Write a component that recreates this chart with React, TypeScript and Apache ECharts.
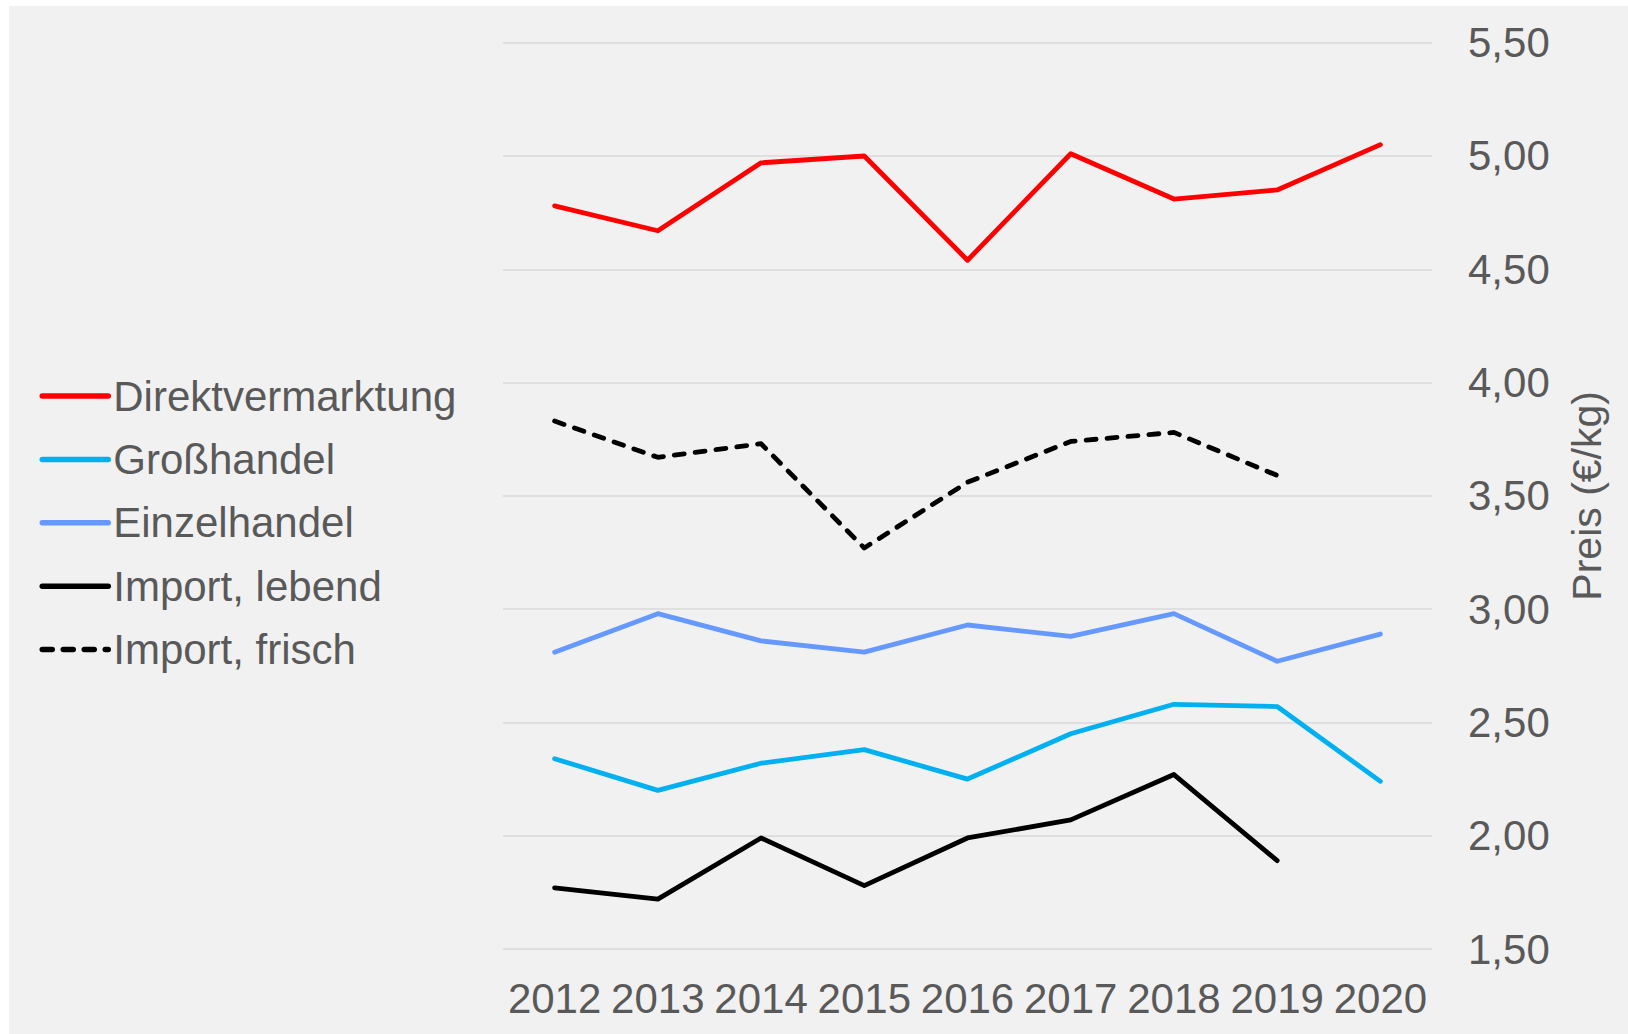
import React, { useEffect, useRef } from "react";
import * as echarts from "echarts";

const years = ["2012", "2013", "2014", "2015", "2016", "2017", "2018", "2019", "2020"];
const direktvermarktung = [4.78, 4.67, 4.97, 5.0, 4.54, 5.01, 4.81, 4.85, 5.05];
const grosshandel = [2.34, 2.2, 2.32, 2.38, 2.25, 2.45, 2.58, 2.57, 2.24];
const einzelhandel = [2.81, 2.98, 2.86, 2.81, 2.93, 2.88, 2.98, 2.77, 2.89];
const importLebend = [1.77, 1.72, 1.99, 1.78, 1.99, 2.07, 2.27, 1.89, null];
const importFrisch = [3.83, 3.67, 3.73, 3.27, 3.56, 3.74, 3.78, 3.59, null];

const FONT = "'Liberation Sans', Arial, sans-serif";
const TXT = "#595959";

export default function App() {
  const ref = useRef<HTMLDivElement>(null);
  useEffect(() => {
    document.body.style.margin = "0";
    const chart = echarts.init(ref.current!, null, { renderer: "svg" });
    const lineSeries = (name: string, data: any[], color: string, width: number, dashed = false) => ({
      name,
      type: "line",
      data,
      symbol: "none",
      connectNulls: false,
      lineStyle: {
        color,
        width,
        type: dashed ? [10, 11] : "solid",
        cap: "round",
        join: "round",
      },
      itemStyle: { color },
    });
    chart.setOption({
      animation: false,
      backgroundColor: "#ffffff",
      textStyle: { fontFamily: FONT },
      graphic: [
        {
          type: "rect",
          z: -10,
          shape: { x: 9, y: 6, width: 1619, height: 1028 },
          style: { fill: "#f1f1f1" },
          silent: true,
        },
      ],
      grid: { left: 503, right: 196, top: 42.7, bottom: 85 },
      legend: {
        orient: "vertical",
        left: 34.5,
        top: 370,
        itemWidth: 66,
        itemHeight: 14,
        itemGap: 21.4,
        itemStyle: { opacity: 0 },
        lineStyle: { width: 5.5, cap: "round" },
        textStyle: { color: TXT, fontSize: 42, fontFamily: FONT, lineHeight: 42 },
        data: ["Direktvermarktung", "Großhandel", "Einzelhandel", "Import, lebend", "Import, frisch"],
      },
      xAxis: {
        type: "category",
        data: years,
        boundaryGap: true,
        axisLine: { show: false },
        axisTick: { show: false },
        axisLabel: { interval: 0, color: TXT, fontSize: 42, fontFamily: FONT, margin: 28 },
      },
      yAxis: {
        type: "value",
        position: "right",
        min: 1.5,
        max: 5.5,
        interval: 0.5,
        name: "Preis (€/kg)",
        nameLocation: "middle",
        nameRotate: 90,
        nameGap: 134,
        nameTextStyle: { color: TXT, fontSize: 41, fontFamily: FONT },
        axisLine: { show: false },
        axisTick: { show: false },
        splitLine: { lineStyle: { color: "#d9d9d9", width: 1.5 } },
        axisLabel: {
          color: TXT,
          fontSize: 42,
          fontFamily: FONT,
          margin: 36,
          formatter: (v: number) => v.toFixed(2).replace(".", ","),
        },
      },
      series: [
        lineSeries("Direktvermarktung", direktvermarktung, "#ff0000", 4.8),
        lineSeries("Großhandel", grosshandel, "#00b0f0", 4.8),
        lineSeries("Einzelhandel", einzelhandel, "#6699ff", 4.8),
        lineSeries("Import, lebend", importLebend, "#000000", 4.8),
        lineSeries("Import, frisch", importFrisch, "#000000", 4.8, true),
      ],
    });
    return () => chart.dispose();
  }, []);
  return <div ref={ref} style={{ width: 1628, height: 1034 }} />;
}
